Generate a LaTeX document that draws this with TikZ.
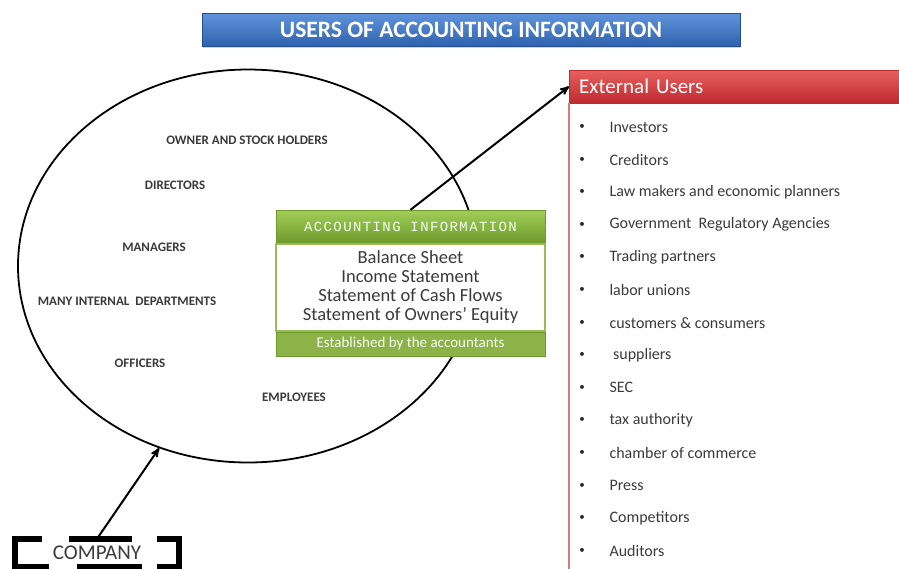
\documentclass[tikz,border=0pt]{standalone}
\usepackage{fontspec}
\setmainfont{Carlito}
\newfontfamily\spacedmono[LetterSpace=10]{Liberation Mono}
\usetikzlibrary{arrows,positioning,shapes.geometric,shadows}

\definecolor{bluetop}{HTML}{5F93DA}
\definecolor{bluebot}{HTML}{2E62AE}
\definecolor{greentop}{HTML}{A2CD58}
\definecolor{greenbot}{HTML}{6E9B2C}
\definecolor{greenline}{HTML}{9BBB59}
\definecolor{greenfoot}{HTML}{8DB247}
\definecolor{redtop}{HTML}{E86060}
\definecolor{redbot}{HTML}{BE2A2D}
\definecolor{redline}{HTML}{D77A7A}
\definecolor{labelgrey}{HTML}{3A3A3A}

\begin{document}
\begin{tikzpicture}[x=1pt,y=-1pt,>=stealth',
    titlebar/.style={minimum width=538pt,minimum height=33pt,top color=bluetop,bottom color=bluebot,
      draw=bluebot!80!black,drop shadow={opacity=0.35,shadow xshift=1pt,shadow yshift=-1.5pt},
      text=white,font=\bfseries\fontsize{23.5}{25}\selectfont},
    inner/.style={font=\bfseries\fontsize{13}{15}\selectfont,text=labelgrey},
    infohead/.style={minimum width=269pt,minimum height=33pt,top color=greentop,bottom color=greenbot,
      draw=greenbot,text=green!5!white,font=\spacedmono\fontsize{14}{16}\selectfont},
    infobody/.style={minimum width=269pt,minimum height=87pt,fill=white,draw=greenline,line width=1.5pt,
      align=center,text=labelgrey,font=\fontsize{18.5}{19}\selectfont},
    infofoot/.style={minimum width=269pt,minimum height=24pt,fill=greenfoot,draw=greenbot,
      text=green!5!white,font=\fontsize{15}{17}\selectfont},
    exthead/.style={minimum width=340pt,minimum height=33pt,top color=redtop,bottom color=redbot,
      draw=redbot,text=white,anchor=west,font=\fontsize{21}{23}\selectfont,text width=320pt},
    user/.style={anchor=west,text=labelgrey,font=\fontsize{16}{18}\selectfont},
    dot/.style={text=black!85,font=\fontsize{11}{13}\selectfont},
    bracket/.style={line width=6pt,draw=black}]
  \useasboundingbox (0,0) rectangle (899,568);

  % title
  \node[titlebar] (title) at (471,30) {USERS OF ACCOUNTING INFORMATION};

  % internal users
  \node[ellipse,draw,line width=1.8pt,minimum width=460pt,minimum height=393pt] (company) at (248,266) {};
  \node[inner] (owner) at (247,140) {OWNER AND STOCK HOLDERS};
  \node[inner] (directors) at (175,185) {DIRECTORS};
  \node[inner] (managers) at (154,247) {MANAGERS};
  \node[inner] (depts) at (127,301) {MANY INTERNAL\ \ DEPARTMENTS};
  \node[inner] (officers) at (140,363) {OFFICERS};
  \node[inner] (employees) at (294,397) {EMPLOYEES};

  % accounting information
  \node[infohead] (info) at (410.5,226.5) {ACCOUNTING INFORMATION};
  \node[infobody,below=0pt of info] (statements) {Balance Sheet\\Income Statement\\Statement of Cash Flows\\Statement of Owners’ Equity};
  \node[infofoot,below=0pt of statements] (established) {Established by the accountants};

  % external users
  \node[exthead] (external) at (569,86.5) {External Users};
  \coordinate (extend) at (570,575);
  \draw[redline,line width=2.5pt] (external.south west) -- (external.south west |- extend);
  \foreach \who [count=\i] in {Investors,Creditors,Law makers and economic planners,
      Government\ \ Regulatory Agencies,Trading partners,labor unions,customers \& consumers,
      \ suppliers,SEC,tax authority,chamber of commerce,Press,Competitors,Auditors}{
    \node[dot] (bullet\i) at (582,127+32.6*\i-32.6) {\textbullet};
    \node[user] (user\i) at (606,127+32.6*\i-32.6) {\who};
  }

  % company
  \node[minimum width=163pt,minimum height=28pt,text=labelgrey,font=\fontsize{21}{23}\selectfont] (firm) at (97,553) {COMPANY};
  \draw[bracket] ([xshift=27pt]firm.north west) -- (firm.north west) -- (firm.south west) -- ([xshift=34pt]firm.south west);
  \draw[bracket] ([xshift=-22pt]firm.north east) -- (firm.north east) -- (firm.south east) -- ([xshift=-22pt]firm.south east);
  \draw[bracket] ([xshift=54pt]firm.north west) -- ([xshift=117pt]firm.north west);
  \draw[bracket] ([xshift=62pt]firm.south west) -- ([xshift=127pt]firm.south west);

  % arrows
  \draw[->,line width=2pt] (firm.north) -- (company.-116);
  \draw[->,line width=2pt] (info.north) -- (external.west);
\end{tikzpicture}
\end{document}
